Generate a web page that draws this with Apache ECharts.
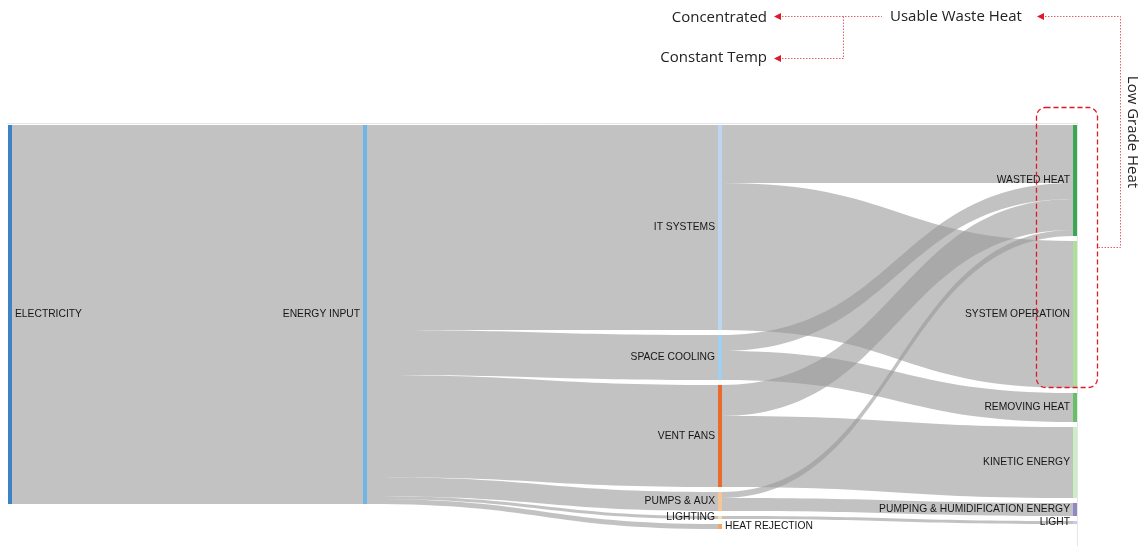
<!DOCTYPE html>
<html>
<head>
<meta charset="utf-8">
<script src="https://cdn.jsdelivr.net/npm/echarts@6/dist/echarts.min.js"></script>
<style>
html,body{margin:0;padding:0;background:#fff;}
#chart{width:1143px;height:546px;}
</style>
</head>
<body>
<div id="chart"></div>
<script>
// ---- data ----
const nodeNames = [
  'ELECTRICITY', 'ENERGY INPUT',
  'IT SYSTEMS', 'SPACE COOLING', 'VENT FANS', 'PUMPS & AUX', 'LIGHTING', 'HEAT REJECTION',
  'WASTED HEAT', 'SYSTEM OPERATION', 'REMOVING HEAT', 'KINETIC ENERGY', 'PUMPING & HUMIDIFICATION ENERGY', 'LIGHT'
];
const linkSources = [
  'ELECTRICITY',
  'ENERGY INPUT', 'ENERGY INPUT', 'ENERGY INPUT', 'ENERGY INPUT', 'ENERGY INPUT', 'ENERGY INPUT',
  'IT SYSTEMS', 'IT SYSTEMS',
  'SPACE COOLING', 'SPACE COOLING',
  'VENT FANS', 'VENT FANS',
  'PUMPS & AUX', 'PUMPS & AUX',
  'LIGHTING'
];
const linkTargets = [
  'ENERGY INPUT',
  'IT SYSTEMS', 'SPACE COOLING', 'VENT FANS', 'PUMPS & AUX', 'LIGHTING', 'HEAT REJECTION',
  'WASTED HEAT', 'SYSTEM OPERATION',
  'WASTED HEAT', 'REMOVING HEAT',
  'WASTED HEAT', 'KINETIC ENERGY',
  'WASTED HEAT', 'PUMPING & HUMIDIFICATION ENERGY',
  'LIGHT'
];
const linkValues = [
  379,
  205, 45, 102, 19, 3, 5,
  58, 147,
  16, 29,
  31, 71,
  6, 13,
  3
];
const annotationTexts = ['Usable Waste Heat', 'Concentrated', 'Constant Temp', 'Low Grade Heat'];

// ---- styles ----
const nodeColors = {
  'ELECTRICITY': '#3d82c4',
  'ENERGY INPUT': '#6fb5e6',
  'IT SYSTEMS': '#bcd5f0',
  'SPACE COOLING': '#9fd0f0',
  'VENT FANS': '#e96a2c',
  'PUMPS & AUX': '#f8c594',
  'LIGHTING': '#fadbb8',
  'HEAT REJECTION': '#f3a766',
  'WASTED HEAT': '#3aa852',
  'SYSTEM OPERATION': '#acdf9c',
  'REMOVING HEAT': '#67bf67',
  'KINETIC ENERGY': '#cbeec4',
  'PUMPING & HUMIDIFICATION ENERGY': '#8c89c4',
  'LIGHT': '#cdc8e6'
};
const rightLabelNodes = ['ELECTRICITY', 'HEAT REJECTION'];

const nodes = nodeNames.map(function (n) {
  const item = { name: n, itemStyle: { color: nodeColors[n] } };
  if (n === 'HEAT REJECTION') item.depth = 2;
  if (rightLabelNodes.indexOf(n) >= 0) item.label = { position: 'right' };
  return item;
});
const links = linkValues.map(function (v, i) {
  return { source: linkSources[i], target: linkTargets[i], value: v };
});

const red = '#e01828';
const dotted = { stroke: '#e4606e', lineWidth: 1, lineDash: [1.5, 1.5] };
function arrowLeft(x, y) {
  return { type: 'polygon', shape: { points: [[x, y], [x + 7, y - 3.5], [x + 7, y + 3.5]] }, style: { fill: red } };
}

const chart = echarts.init(document.getElementById('chart'), null, { renderer: 'canvas' });
chart.setOption({
  backgroundColor: '#ffffff',
  animation: false,
  graphic: [
    { type: 'polyline', shape: { points: [[7, 123.5], [1077.5, 123.5], [1077.5, 546]] }, style: { stroke: '#e6e6e6', lineWidth: 1, fill: null } },
    { type: 'text', x: 890, y: 17, style: { text: annotationTexts[0], font: '15px "Open Sans"', fill: '#222', verticalAlign: 'middle' } },
    { type: 'text', x: 767, y: 18, style: { text: annotationTexts[1], font: '15px "Open Sans"', fill: '#222', align: 'right', verticalAlign: 'middle' } },
    { type: 'text', x: 767, y: 58, style: { text: annotationTexts[2], font: '15px "Open Sans"', fill: '#222', align: 'right', verticalAlign: 'middle' } },
    { type: 'text', x: 1132, y: 132, rotation: -Math.PI / 2, style: { text: annotationTexts[3], font: '15px "Open Sans"', fill: '#222', align: 'center', verticalAlign: 'middle' } },
    { type: 'polyline', shape: { points: [[782, 16.5], [882, 16.5]] }, style: Object.assign({ fill: null }, dotted) },
    { type: 'polyline', shape: { points: [[843.5, 16.5], [843.5, 58.5], [782, 58.5]] }, style: Object.assign({ fill: null }, dotted) },
    { type: 'polyline', shape: { points: [[1045, 16.5], [1120.5, 16.5], [1120.5, 247.5], [1098, 247.5]] }, style: Object.assign({ fill: null }, dotted) },
    arrowLeft(774, 16.5),
    arrowLeft(774, 58.5),
    arrowLeft(1037, 16.5),
    { type: 'rect', z: 100, shape: { x: 1036.5, y: 107.5, width: 61, height: 280, r: 9 }, style: { fill: null, stroke: red, lineWidth: 1.3, lineDash: [5, 3] } }
  ],
  series: [{
    type: 'sankey',
    left: 8,
    top: 125,
    width: 1069,
    height: 404,
    nodeWidth: 4,
    nodeGap: 5,
    layoutIterations: 0,
    nodeAlign: 'left',
    draggable: false,
    emphasis: { disabled: true },
    label: {
      position: 'left',
      distance: 3,
      fontFamily: '"Liberation Sans", Arial, sans-serif',
      fontSize: 10.3,
      color: '#161616'
    },
    itemStyle: { borderWidth: 0 },
    lineStyle: { color: '#989898', opacity: 0.59, curveness: 0.5 },
    data: nodes,
    links: links
  }]
});
</script>
</body>
</html>
